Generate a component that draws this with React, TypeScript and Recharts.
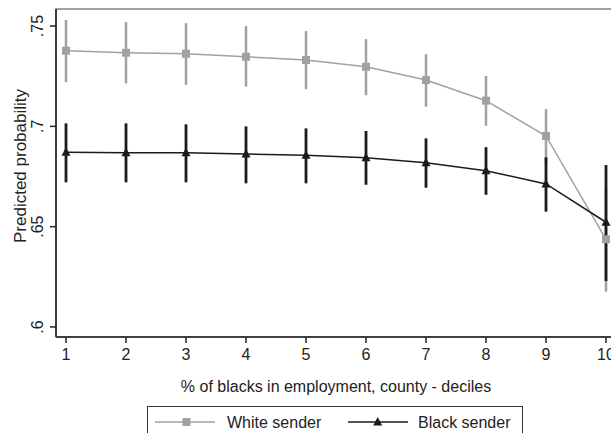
import React from 'react';
import {LineChart, Line, XAxis, YAxis, ErrorBar, ReferenceArea} from 'recharts';

const deciles = [1, 2, 3, 4, 5, 6, 7, 8, 9, 10];
const whiteMean = [0.7377, 0.7367, 0.7362, 0.7347, 0.7331, 0.7297, 0.7231, 0.7128, 0.6952, 0.6437];
const whiteLow = [0.722, 0.7214, 0.7207, 0.7198, 0.7185, 0.7155, 0.7098, 0.7003, 0.6818, 0.6176];
const whiteHigh = [0.753, 0.752, 0.7514, 0.75, 0.7475, 0.7435, 0.736, 0.7251, 0.7086, 0.6698];
const blackMean = [0.6871, 0.6869, 0.6869, 0.6862, 0.6856, 0.6844, 0.6819, 0.6779, 0.6713, 0.6522];
const blackLow = [0.6721, 0.6721, 0.6721, 0.6716, 0.6716, 0.6709, 0.6694, 0.6659, 0.6575, 0.6229];
const blackHigh = [0.7015, 0.7015, 0.701, 0.7, 0.699, 0.6977, 0.694, 0.6896, 0.6846, 0.6807];
const yTicks = [0.6, 0.65, 0.7, 0.75];

const GRAY = '#a1a1a4';
const BLACK = '#1c1a1b';
const FONT = '"Liberation Sans", Arial, sans-serif';
const X_DOMAIN: [number, number] = [0.8333, 10.1667];
const Y_DOMAIN: [number, number] = [0.595, 0.7585];

const rows = deciles.map((d, i) => ({
    decile: d,
    white: whiteMean[i],
    whiteErr: [whiteMean[i] - whiteLow[i], whiteHigh[i] - whiteMean[i]],
    black: blackMean[i],
    blackErr: [blackMean[i] - blackLow[i], blackHigh[i] - blackMean[i]],
}));

const fmt = (v: number) => String(v).replace(/^0/, '');

const YTick = (props: any) => {
    const {x, y, payload} = props;
    return (
        <text x={x} y={y} transform={`rotate(-90 ${x} ${y})`} textAnchor="middle"
              fontSize={16} fill="#222" fontFamily={FONT}>
            {fmt(payload.value)}
        </text>
    );
};

// y title sits a bit above the plot centre, as in the source
const YTitle = () => (
    <text x={25.5} y={166} transform="rotate(-90 25.5 166)" textAnchor="middle"
          fontSize={17} fill="#222" fontFamily={FONT}>
        Predicted probability
    </text>
);

const Square = (props: any) => {
    const {cx, cy, index} = props;
    if (cx == null || cy == null) return <g key={index} />;
    return <rect key={index} x={cx - 4} y={cy - 4} width={8} height={8} fill={GRAY} />;
};

const Triangle = (props: any) => {
    const {cx, cy, index} = props;
    if (cx == null || cy == null) return <g key={index} />;
    return <path key={index} d={`M${cx},${cy - 5} L${cx - 4.5},${cy + 3.5} L${cx + 4.5},${cy + 3.5} Z`} fill={BLACK} />;
};

const LegendBox = () => (
    <div style={{position: 'absolute', left: 147, top: 406, width: 376, height: 40,
        border: '1px solid #333', boxSizing: 'border-box', background: '#fff'}}>
        <svg width={374} height={38} style={{display: 'block'}}>
            <line x1={7} x2={67} y1={15} y2={15} stroke={GRAY} strokeWidth={1.5} />
            <rect x={34.5} y={11} width={8} height={8} fill={GRAY} />
            <text x={79} y={21} fontSize={16} fill="#222" fontFamily={FONT}>White sender</text>
            <line x1={200} x2={260} y1={15} y2={15} stroke={BLACK} strokeWidth={1.5} />
            <path d="M229.7,10 L225.2,18.5 L234.2,18.5 Z" fill={BLACK} />
            <text x={270} y={21} fontSize={16} fill="#222" fontFamily={FONT}>Black sender</text>
        </svg>
    </div>
);

export default function App() {
    return (
        <div style={{position: 'absolute', left: 0, top: 0, width: 611, height: 433,
            overflow: 'hidden', background: '#fff', fontFamily: FONT}}>
            <LineChart width={640} height={460} data={rows}
                       margin={{top: 9, right: 24, left: 0, bottom: 63}}>
                <XAxis dataKey="decile" type="number" domain={X_DOMAIN} ticks={deciles}
                       allowDataOverflow height={60} tickSize={6} tickMargin={6}
                       stroke="#222" strokeWidth={1.5}
                       tick={{fontSize: 16, fill: '#222', fontFamily: FONT}}
                       label={{value: '% of blacks in employment, county - deciles', position: 'insideBottom',
                           offset: 5.5, fontSize: 16, fill: '#222', fontFamily: FONT}} />
                <YAxis type="number" domain={Y_DOMAIN} ticks={yTicks} allowDataOverflow
                       width={56} tickSize={6} tickMargin={6.5} stroke="#222" strokeWidth={1.5}
                       tick={<YTick />} label={<YTitle />} />
                <ReferenceArea x1={X_DOMAIN[0]} x2={X_DOMAIN[1]} y1={Y_DOMAIN[0]} y2={Y_DOMAIN[1]}
                               fill="none" stroke="#444" strokeWidth={1.2} />
                <Line dataKey="white" stroke="none" dot={false} activeDot={false} isAnimationActive={false}>
                    <ErrorBar dataKey="whiteErr" width={0} stroke={GRAY} strokeWidth={2.5} direction="y" />
                </Line>
                <Line dataKey="black" stroke="none" dot={false} activeDot={false} isAnimationActive={false}>
                    <ErrorBar dataKey="blackErr" width={0} stroke={BLACK} strokeWidth={2.8} direction="y" />
                </Line>
                <Line dataKey="white" stroke={GRAY} strokeWidth={1.5} dot={<Square />} activeDot={false}
                      isAnimationActive={false} />
                <Line dataKey="black" stroke={BLACK} strokeWidth={1.5} dot={<Triangle />} activeDot={false}
                      isAnimationActive={false} />
            </LineChart>
            <LegendBox />
        </div>
    );
}
